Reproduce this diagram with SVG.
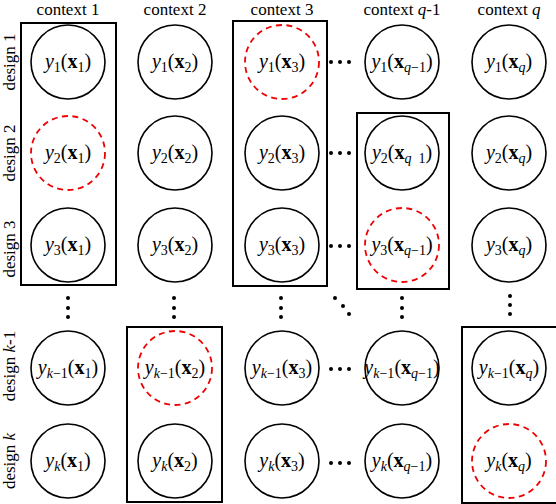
<svg xmlns="http://www.w3.org/2000/svg" width="556" height="504" viewBox="0 0 556 504">
<style>
.bg{fill:#fff}
.box{fill:none;stroke:#000;stroke-width:2}
.c{fill:none;stroke:#000;stroke-width:1.6}
.r{fill:none;stroke:#e00;stroke-width:1.8;stroke-dasharray:6,4.5}
.dot{fill:#000}
</style>
<rect class="bg" width="556" height="504"/>
<g id="headers" font-family="Liberation Serif, serif" font-size="17" text-anchor="middle">
<text x="68" y="15">context 1</text>
<text x="175" y="15">context 2</text>
<text x="282" y="15">context 3</text>
<text x="402" y="15">context <tspan font-style="italic">q</tspan>-1</text>
<text x="509" y="15">context <tspan font-style="italic">q</tspan></text>
</g>
<g id="row-labels" font-family="Liberation Serif, serif" font-size="17" text-anchor="middle">
<text transform="translate(15,62) rotate(-90)">design 1</text>
<text transform="translate(15,153) rotate(-90)">design 2</text>
<text transform="translate(15,249) rotate(-90)">design 3</text>
<text transform="translate(15,366) rotate(-90)">design <tspan font-style="italic">k</tspan>-1</text>
<text transform="translate(15,461) rotate(-90)">design <tspan font-style="italic">k</tspan></text>
</g>
<g id="boxes">
<rect class="box" x="21" y="23" width="95" height="262"/>
<rect class="box" x="233" y="21" width="94" height="265"/>
<rect class="box" x="357" y="113" width="92" height="176"/>
<rect class="box" x="127" y="327" width="95" height="175"/>
<rect class="box" x="462" y="327" width="95" height="176"/>
</g>
<g id="connectors">
<g id="hdots">
<circle class="dot" cx="331" cy="62" r="2"/><circle class="dot" cx="340" cy="62" r="2"/><circle class="dot" cx="349" cy="62" r="2"/>
<circle class="dot" cx="331" cy="153" r="2"/><circle class="dot" cx="340" cy="153" r="2"/><circle class="dot" cx="349" cy="153" r="2"/>
<circle class="dot" cx="331" cy="246" r="2"/><circle class="dot" cx="340" cy="246" r="2"/><circle class="dot" cx="349" cy="246" r="2"/>
<circle class="dot" cx="331" cy="369" r="2"/><circle class="dot" cx="340" cy="369" r="2"/><circle class="dot" cx="349" cy="369" r="2"/>
<circle class="dot" cx="331" cy="463" r="2"/><circle class="dot" cx="340" cy="463" r="2"/><circle class="dot" cx="349" cy="463" r="2"/>
</g>
<g id="vdots">
<circle class="dot" cx="68" cy="298" r="2"/><circle class="dot" cx="68" cy="308" r="2"/><circle class="dot" cx="68" cy="317" r="2"/>
<circle class="dot" cx="174" cy="298" r="2"/><circle class="dot" cx="174" cy="308" r="2"/><circle class="dot" cx="174" cy="317" r="2"/>
<circle class="dot" cx="281" cy="298" r="2"/><circle class="dot" cx="281" cy="308" r="2"/><circle class="dot" cx="281" cy="317" r="2"/>
<circle class="dot" cx="402" cy="298" r="2"/><circle class="dot" cx="402" cy="308" r="2"/><circle class="dot" cx="402" cy="317" r="2"/>
<circle class="dot" cx="510" cy="296" r="2"/><circle class="dot" cx="510" cy="305" r="2"/><circle class="dot" cx="510" cy="314" r="2"/>
<circle class="dot" cx="335" cy="298" r="2"/><circle class="dot" cx="343" cy="306" r="2"/><circle class="dot" cx="349" cy="314" r="2"/>
</g>
</g>
<g id="nodes" font-family="Liberation Serif, serif" font-size="20" text-anchor="middle">
<g id="n-1-1"><circle class="c" cx="68" cy="62" r="37"/><text x="68" y="68"><tspan font-style="italic">y</tspan><tspan font-size="14" dy="4">1</tspan><tspan dy="-4">(</tspan><tspan font-weight="bold">x</tspan><tspan font-size="14" dy="4">1</tspan><tspan dy="-4">)</tspan></text></g>
<g id="n-1-2"><circle class="c" cx="175" cy="62" r="37"/><text x="175" y="68"><tspan font-style="italic">y</tspan><tspan font-size="14" dy="4">1</tspan><tspan dy="-4">(</tspan><tspan font-weight="bold">x</tspan><tspan font-size="14" dy="4">2</tspan><tspan dy="-4">)</tspan></text></g>
<g id="n-1-3"><circle class="r" cx="282" cy="62" r="37"/><text x="282" y="68"><tspan font-style="italic">y</tspan><tspan font-size="14" dy="4">1</tspan><tspan dy="-4">(</tspan><tspan font-weight="bold">x</tspan><tspan font-size="14" dy="4">3</tspan><tspan dy="-4">)</tspan></text></g>
<g id="n-1-4"><circle class="c" cx="402" cy="62" r="37"/><text x="402" y="68"><tspan font-style="italic">y</tspan><tspan font-size="14" dy="4">1</tspan><tspan dy="-4">(</tspan><tspan font-weight="bold">x</tspan><tspan font-size="14" font-style="italic" dy="4">q</tspan><tspan font-size="14">−1</tspan><tspan dy="-4">)</tspan></text></g>
<g id="n-1-5"><circle class="c" cx="509" cy="62" r="37"/><text x="509" y="68"><tspan font-style="italic">y</tspan><tspan font-size="14" dy="4">1</tspan><tspan dy="-4">(</tspan><tspan font-weight="bold">x</tspan><tspan font-size="14" font-style="italic" dy="4">q</tspan><tspan dy="-4">)</tspan></text></g>

<g id="n-2-1"><circle class="r" cx="68" cy="153" r="37"/><text x="68" y="159"><tspan font-style="italic">y</tspan><tspan font-size="14" dy="4">2</tspan><tspan dy="-4">(</tspan><tspan font-weight="bold">x</tspan><tspan font-size="14" dy="4">1</tspan><tspan dy="-4">)</tspan></text></g>
<g id="n-2-2"><circle class="c" cx="175" cy="153" r="37"/><text x="175" y="159"><tspan font-style="italic">y</tspan><tspan font-size="14" dy="4">2</tspan><tspan dy="-4">(</tspan><tspan font-weight="bold">x</tspan><tspan font-size="14" dy="4">2</tspan><tspan dy="-4">)</tspan></text></g>
<g id="n-2-3"><circle class="c" cx="282" cy="153" r="37"/><text x="282" y="159"><tspan font-style="italic">y</tspan><tspan font-size="14" dy="4">2</tspan><tspan dy="-4">(</tspan><tspan font-weight="bold">x</tspan><tspan font-size="14" dy="4">3</tspan><tspan dy="-4">)</tspan></text></g>
<g id="n-2-4"><circle class="c" cx="402" cy="153" r="37"/><text x="402" y="159"><tspan font-style="italic">y</tspan><tspan font-size="14" dy="4">2</tspan><tspan dy="-4">(</tspan><tspan font-weight="bold">x</tspan><tspan font-size="14" font-style="italic" dy="4">q</tspan><tspan font-size="14" xml:space="preserve">  1</tspan><tspan dy="-4">)</tspan></text></g>
<g id="n-2-5"><circle class="c" cx="509" cy="153" r="37"/><text x="509" y="159"><tspan font-style="italic">y</tspan><tspan font-size="14" dy="4">2</tspan><tspan dy="-4">(</tspan><tspan font-weight="bold">x</tspan><tspan font-size="14" font-style="italic" dy="4">q</tspan><tspan dy="-4">)</tspan></text></g>

<g id="n-3-1"><circle class="c" cx="68" cy="245" r="37"/><text x="68" y="251"><tspan font-style="italic">y</tspan><tspan font-size="14" dy="4">3</tspan><tspan dy="-4">(</tspan><tspan font-weight="bold">x</tspan><tspan font-size="14" dy="4">1</tspan><tspan dy="-4">)</tspan></text></g>
<g id="n-3-2"><circle class="c" cx="175" cy="245" r="37"/><text x="175" y="251"><tspan font-style="italic">y</tspan><tspan font-size="14" dy="4">3</tspan><tspan dy="-4">(</tspan><tspan font-weight="bold">x</tspan><tspan font-size="14" dy="4">2</tspan><tspan dy="-4">)</tspan></text></g>
<g id="n-3-3"><circle class="c" cx="282" cy="245" r="37"/><text x="282" y="251"><tspan font-style="italic">y</tspan><tspan font-size="14" dy="4">3</tspan><tspan dy="-4">(</tspan><tspan font-weight="bold">x</tspan><tspan font-size="14" dy="4">3</tspan><tspan dy="-4">)</tspan></text></g>
<g id="n-3-4"><circle class="r" cx="402" cy="245" r="37"/><text x="402" y="251"><tspan font-style="italic">y</tspan><tspan font-size="14" dy="4">3</tspan><tspan dy="-4">(</tspan><tspan font-weight="bold">x</tspan><tspan font-size="14" font-style="italic" dy="4">q</tspan><tspan font-size="14">−1</tspan><tspan dy="-4">)</tspan></text></g>
<g id="n-3-5"><circle class="c" cx="509" cy="245" r="37"/><text x="509" y="251"><tspan font-style="italic">y</tspan><tspan font-size="14" dy="4">3</tspan><tspan dy="-4">(</tspan><tspan font-weight="bold">x</tspan><tspan font-size="14" font-style="italic" dy="4">q</tspan><tspan dy="-4">)</tspan></text></g>

<g id="n-k1-1"><circle class="c" cx="68" cy="368" r="37"/><text x="68" y="374"><tspan font-style="italic">y</tspan><tspan font-size="14" font-style="italic" dy="4">k</tspan><tspan font-size="14">−1</tspan><tspan dy="-4">(</tspan><tspan font-weight="bold">x</tspan><tspan font-size="14" dy="4">1</tspan><tspan dy="-4">)</tspan></text></g>
<g id="n-k1-2"><circle class="r" cx="175" cy="368" r="37"/><text x="175" y="374"><tspan font-style="italic">y</tspan><tspan font-size="14" font-style="italic" dy="4">k</tspan><tspan font-size="14">−1</tspan><tspan dy="-4">(</tspan><tspan font-weight="bold">x</tspan><tspan font-size="14" dy="4">2</tspan><tspan dy="-4">)</tspan></text></g>
<g id="n-k1-3"><circle class="c" cx="282" cy="368" r="37"/><text x="282" y="374"><tspan font-style="italic">y</tspan><tspan font-size="14" font-style="italic" dy="4">k</tspan><tspan font-size="14">−1</tspan><tspan dy="-4">(</tspan><tspan font-weight="bold">x</tspan><tspan font-size="14" dy="4">3</tspan><tspan dy="-4">)</tspan></text></g>
<g id="n-k1-4"><circle class="c" cx="402" cy="368" r="37"/><text x="402" y="374"><tspan font-style="italic">y</tspan><tspan font-size="14" font-style="italic" dy="4">k</tspan><tspan font-size="14">−1</tspan><tspan dy="-4">(</tspan><tspan font-weight="bold">x</tspan><tspan font-size="14" font-style="italic" dy="4">q</tspan><tspan font-size="14">−1</tspan><tspan dy="-4">)</tspan></text></g>
<g id="n-k1-5"><circle class="c" cx="509" cy="368" r="37"/><text x="509" y="374"><tspan font-style="italic">y</tspan><tspan font-size="14" font-style="italic" dy="4">k</tspan><tspan font-size="14">−1</tspan><tspan dy="-4">(</tspan><tspan font-weight="bold">x</tspan><tspan font-size="14" font-style="italic" dy="4">q</tspan><tspan dy="-4">)</tspan></text></g>

<g id="n-k-1"><circle class="c" cx="68" cy="461" r="37"/><text x="68" y="467"><tspan font-style="italic">y</tspan><tspan font-size="14" font-style="italic" dy="4">k</tspan><tspan dy="-4">(</tspan><tspan font-weight="bold">x</tspan><tspan font-size="14" dy="4">1</tspan><tspan dy="-4">)</tspan></text></g>
<g id="n-k-2"><circle class="c" cx="175" cy="461" r="37"/><text x="175" y="467"><tspan font-style="italic">y</tspan><tspan font-size="14" font-style="italic" dy="4">k</tspan><tspan dy="-4">(</tspan><tspan font-weight="bold">x</tspan><tspan font-size="14" dy="4">2</tspan><tspan dy="-4">)</tspan></text></g>
<g id="n-k-3"><circle class="c" cx="282" cy="461" r="37"/><text x="282" y="467"><tspan font-style="italic">y</tspan><tspan font-size="14" font-style="italic" dy="4">k</tspan><tspan dy="-4">(</tspan><tspan font-weight="bold">x</tspan><tspan font-size="14" dy="4">3</tspan><tspan dy="-4">)</tspan></text></g>
<g id="n-k-4"><circle class="c" cx="402" cy="461" r="37"/><text x="402" y="467"><tspan font-style="italic">y</tspan><tspan font-size="14" font-style="italic" dy="4">k</tspan><tspan dy="-4">(</tspan><tspan font-weight="bold">x</tspan><tspan font-size="14" font-style="italic" dy="4">q</tspan><tspan font-size="14">−1</tspan><tspan dy="-4">)</tspan></text></g>
<g id="n-k-5"><circle class="r" cx="509" cy="461" r="37"/><text x="509" y="467"><tspan font-style="italic">y</tspan><tspan font-size="14" font-style="italic" dy="4">k</tspan><tspan dy="-4">(</tspan><tspan font-weight="bold">x</tspan><tspan font-size="14" font-style="italic" dy="4">q</tspan><tspan dy="-4">)</tspan></text></g>
</g>
</svg>
